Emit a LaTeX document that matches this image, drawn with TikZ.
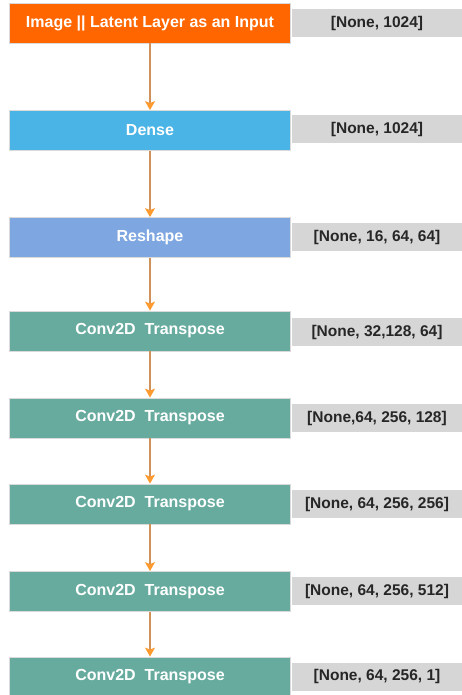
\documentclass[tikz,border=0pt]{standalone}
\usepackage{fontspec}
\setmainfont{Liberation Sans}
\usetikzlibrary{arrows.meta}
\definecolor{cinput}{HTML}{FF6600}
\definecolor{cdense}{HTML}{4BB4E6}
\definecolor{creshape}{HTML}{7EA6E0}
\definecolor{cconv}{HTML}{67AB9F}
\definecolor{clabel}{HTML}{D6D6D6}
\definecolor{cedge}{HTML}{DADADA}
\definecolor{cline}{HTML}{D0915A}
\definecolor{chead}{HTML}{FF9A2E}
\definecolor{ctext}{HTML}{262626}
\tikzset{
  layer/.style={draw=cedge, line width=0.8pt, minimum width=281pt, minimum height=40pt,
    inner sep=0pt, text=white, font=\fontsize{16}{18}\selectfont\bfseries},
  dimbox/.style={fill=clabel, minimum width=171pt, minimum height=28pt, inner sep=0pt,
    text=ctext, font=\fontsize{15.5}{18}\selectfont\bfseries},
  flow/.style={draw=cline, line width=1.2pt,
    -{Stealth[width=10pt,length=9pt,inset=2pt,color=chead]}}
}
\begin{document}
\begin{tikzpicture}[x=1pt,y=1pt]
\useasboundingbox[fill=white] (0,0) rectangle (462,-695);
% shape labels
\node[dimbox] (s1) at (377,-23.5) {[None, 1024]};
\node[dimbox] (s2) at (377,-129) {[None, 1024]};
\node[dimbox] (s3) at (377,-237) {[None, 16, 64, 64]};
\node[dimbox] (s4) at (377,-332) {[None, 32,128, 64]};
\node[dimbox] (s5) at (377,-418) {[None,64, 256, 128]};
\node[dimbox] (s6) at (377,-504) {[None, 64, 256, 256]};
\node[dimbox] (s7) at (377,-591) {[None, 64, 256, 512]};
\node[dimbox] (s8) at (377,-676.5) {[None, 64, 256, 1]};
% layers
\node[layer, fill=cinput] (l1) at (150,-23) {Image || Latent Layer as an Input};
\node[layer, fill=cdense] (l2) at (150,-130.5) {Dense};
\node[layer, fill=creshape] (l3) at (150,-237.5) {Reshape};
\node[layer, fill=cconv] (l4) at (150,-331) {Conv2D\ \ Transpose};
\node[layer, fill=cconv] (l5) at (150,-418) {Conv2D\ \ Transpose};
\node[layer, fill=cconv] (l6) at (150,-504) {Conv2D\ \ Transpose};
\node[layer, fill=cconv] (l7) at (150,-591.5) {Conv2D\ \ Transpose};
\node[layer, fill=cconv] (l8) at (150,-677) {Conv2D\ \ Transpose};
% arrows
\draw[flow] (l1) -- (l2);
\draw[flow] (l2) -- (l3);
\draw[flow] (l3) -- (l4);
\draw[flow] (l4) -- (l5);
\draw[flow] (l5) -- (l6);
\draw[flow] (l6) -- (l7);
\draw[flow] (l7) -- (l8);
\end{tikzpicture}
\end{document}
